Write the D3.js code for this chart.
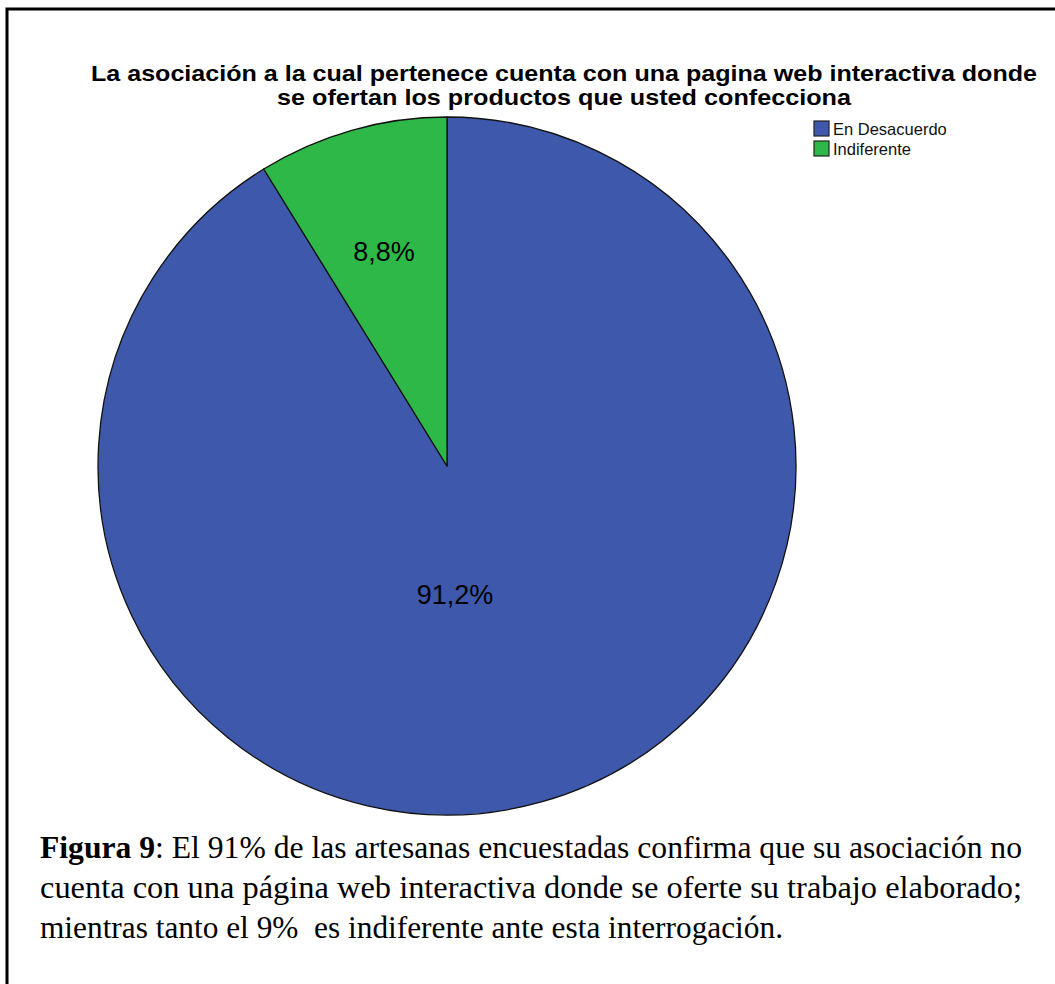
<!DOCTYPE html>
<html>
<head>
<meta charset="utf-8">
<script src="https://cdn.jsdelivr.net/npm/d3@7"></script>
<style>
  html, body { margin: 0; padding: 0; background: #fff; }
  svg { display: block; }
</style>
</head>
<body>
<script>
// Survey answers and their shares (%)
const categories = ["En Desacuerdo", "Indiferente"];
const shares = [91.2, 8.8];
const shareLabels = ["91,2%", "8,8%"];
const colors = ["#3e58ac", "#2eb848"];

const titleLines = [
  "La asociación a la cual pertenece cuenta con una pagina web interactiva donde",
  "se ofertan los productos que usted confecciona"
];

const captionLines = [
  [{t: "Figura 9", b: true}, {t: ": El 91% de las artesanas encuestadas confirma que su asociación no"}],
  [{t: "cuenta con una página web interactiva donde se oferte su trabajo elaborado;"}],
  [{t: "mientras tanto el 9%  es indiferente ante esta interrogación."}]
];

const W = 1055, H = 984;
const svg = d3.select("body").append("svg").attr("width", W).attr("height", H);

// frame
svg.append("path")
  .attr("d", `M7,${H + 5} L7,9 L${W + 5},9`)
  .attr("fill", "none").attr("stroke", "#000").attr("stroke-width", 3);

// title: condensed bold sans, fitted to its line widths
const titleWidths = [946, 574];
svg.append("g").selectAll("text").data(titleLines).join("text")
  .attr("x", 564).attr("y", (d, i) => 81 + i * 24)
  .attr("text-anchor", "middle")
  .attr("font-family", "Liberation Sans, Arial, sans-serif")
  .attr("font-weight", "bold").attr("font-size", 22)
  .attr("fill", "#000")
  .attr("textLength", (d, i) => titleWidths[i])
  .attr("lengthAdjust", "spacingAndGlyphs")
  .text(d => d);

// pie
const cx = 447, cy = 466, R = 349;
const pie = d3.pie().sort(null).value(d => d.v)
  .startAngle(0).endAngle(2 * Math.PI);
const data = categories.map((c, i) => ({c, v: shares[i], label: shareLabels[i], color: colors[i]}));
const arcs = pie(data);
const arc = d3.arc().innerRadius(0).outerRadius(R);

const g = svg.append("g").attr("transform", `translate(${cx},${cy})`);
g.selectAll("path.slice").data(arcs).join("path")
  .attr("class", "slice")
  .attr("d", arc)
  .attr("fill", d => d.data.color)
  .attr("stroke", "#111").attr("stroke-width", 1.3).attr("stroke-linejoin", "round");

const labelPos = [ [8, 129], [-63, -214] ];
g.selectAll("text.lbl").data(arcs).join("text")
  .attr("class", "lbl")
  .attr("x", (d, i) => labelPos[i][0]).attr("y", (d, i) => labelPos[i][1])
  .attr("text-anchor", "middle").attr("dominant-baseline", "central")
  .attr("font-family", "Liberation Sans, Arial, sans-serif")
  .attr("font-size", 27).attr("fill", "#000")
  .text(d => d.data.label);

// legend
const lg = svg.append("g").attr("transform", "translate(814,121)");
const items = lg.selectAll("g").data(data).join("g")
  .attr("transform", (d, i) => `translate(0,${i * 20})`);
items.append("rect").attr("width", 15).attr("height", 15)
  .attr("fill", d => d.color).attr("stroke", "#222").attr("stroke-width", 1.2);
items.append("text").attr("x", 19).attr("y", 14)
  .attr("font-family", "Liberation Sans, Arial, sans-serif")
  .attr("font-size", 16.5).attr("fill", "#111")
  .text(d => d.c);

// caption: tall narrow serif, first two lines set to full measure
const capX = 40;
const capWidths = [982, 982, 743];
const cap = svg.append("g").attr("font-family", "Liberation Serif, Times New Roman, serif")
  .attr("font-size", 31).attr("fill", "#000");
captionLines.forEach((runs, li) => {
  const t = cap.append("text").attr("x", capX).attr("y", 858 + li * 40)
    .attr("xml:space", "preserve")
    .attr("textLength", capWidths[li]).attr("lengthAdjust", "spacingAndGlyphs");
  runs.forEach(r => t.append("tspan").attr("font-weight", r.b ? "bold" : "normal").text(r.t));
});
</script>
</body>
</html>
